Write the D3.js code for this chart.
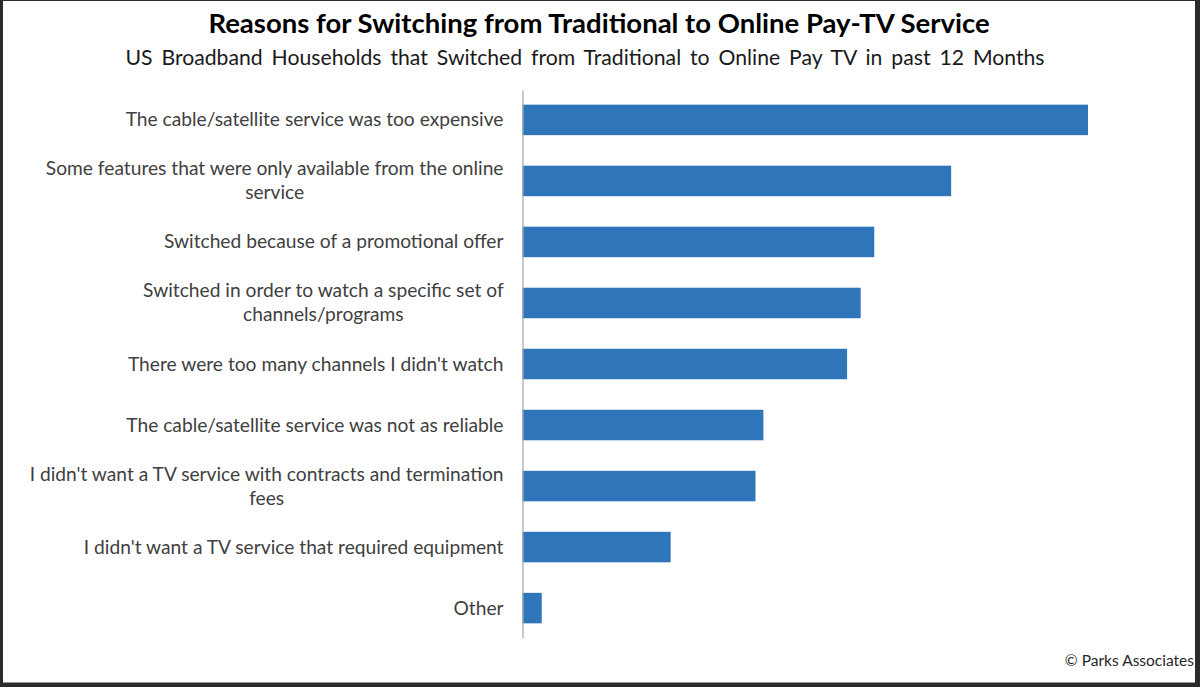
<!DOCTYPE html>
<html>
<head>
<meta charset="utf-8">
<script src="https://cdn.jsdelivr.net/npm/d3@7"></script>
<style>
  body { margin: 0; background: #2b2b2b; }
  svg { display: block; }
</style>
</head>
<body>
<div id="chart"></div>
<script>
// categories, top to bottom; "|" marks a line break in the label
var categories = [
    "The cable/satellite service was too expensive",
    "Some features that were only available from the online|service",
    "Switched because of a promotional offer",
    "Switched in order to watch a specific set of|channels/programs",
    "There were too many channels I didn't watch",
    "The cable/satellite service was not as reliable",
    "I didn't want a TV service with contracts and termination|fees",
    "I didn't want a TV service that required equipment",
    "Other"
];
// percent of households
var values = [50.0, 37.9, 31.1, 29.9, 28.7, 21.3, 20.6, 13.1, 1.7];

var titleText = "Reasons for Switching from Traditional to Online Pay-TV Service";
var subtitleText = "US Broadband Households that Switched from Traditional to Online Pay TV in past 12 Months";
var sourceText = "\u00A9 Parks Associates";

var W = 1200, H = 687;
var margin = { top: 90, left: 522.5, bottom: 49, right: 0 };
var width = 678.6, height = H - margin.top - margin.bottom;
var barColor = "#2f75b9";
var textColor = "#404040";
var font = "Lato, 'Open Sans', sans-serif";

var data = categories.map(function (c, i) {
    return { key: c, value: values[i] };
});

var svg = d3.select("#chart").append("svg")
    .attr("width", W)
    .attr("height", H);

// white panel inside the dark frame
svg.append("rect")
    .attr("x", 3).attr("y", 1)
    .attr("width", 1192).attr("height", 681.5)
    .attr("fill", "#fff");

svg.append("text")
    .attr("x", 599).attr("y", 33)
    .attr("text-anchor", "middle")
    .style("font-family", font)
    .style("font-weight", "bold")
    .style("font-size", "27.5px")
    .attr("fill", "#000")
    .text(titleText);

svg.append("text")
    .attr("x", 585).attr("y", 65)
    .attr("text-anchor", "middle")
    .style("font-family", font)
    .style("font-size", "21.2px")
    .style("word-spacing", "3.5px")
    .attr("fill", "#1a1a1a")
    .text(subtitleText);

var g = svg.append("g")
    .attr("transform", "translate(" + margin.left + "," + margin.top + ")");

var x = d3.scaleLinear()
    .domain([0, 60])
    .range([0, width]);

var y = d3.scaleBand()
    .domain(categories)
    .range([0, height])
    .paddingInner(0.5)
    .paddingOuter(0.24);

g.selectAll(".bar")
    .data(data)
    .enter().append("rect")
    .attr("class", "bar")
    .attr("x", 0)
    .attr("y", function (d) { return y(d.key); })
    .attr("width", function (d) { return x(d.value); })
    .attr("height", y.bandwidth())
    .attr("fill", barColor);

var yAxis = d3.axisLeft(y)
    .tickSize(0)
    .tickSizeOuter(0)
    .tickPadding(19);

var axisG = g.append("g")
    .attr("class", "y axis")
    .call(yAxis);

axisG.select(".domain")
    .attr("stroke", "#a6a6a6")
    .attr("stroke-width", 1.2);

// multi-line labels: block right-aligned, lines centred inside it
axisG.selectAll(".tick text").each(function (d) {
    var t = d3.select(this);
    var lines = d.split("|");
    t.text(null)
        .style("font-family", font)
        .style("font-size", "19.2px")
        .attr("fill", textColor)
        .attr("dy", null);
    var lineH = 24;
    var y0 = -(lines.length - 1) * lineH / 2;
    var spans = lines.map(function (l, i) {
        return t.append("tspan")
            .attr("dy", i === 0 ? (y0 + 6.5) : lineH)
            .text(l);
    });
    var maxW = d3.max(spans, function (s) { return s.node().getComputedTextLength(); });
    var cx = -19 - maxW / 2;
    t.attr("text-anchor", "middle");
    spans.forEach(function (s) { s.attr("x", cx); });
});

svg.append("text")
    .attr("x", 1194).attr("y", 666)
    .attr("text-anchor", "end")
    .style("font-family", font)
    .style("font-size", "15.5px")
    .attr("fill", "#262626")
    .text(sourceText);
</script>
</body>
</html>
